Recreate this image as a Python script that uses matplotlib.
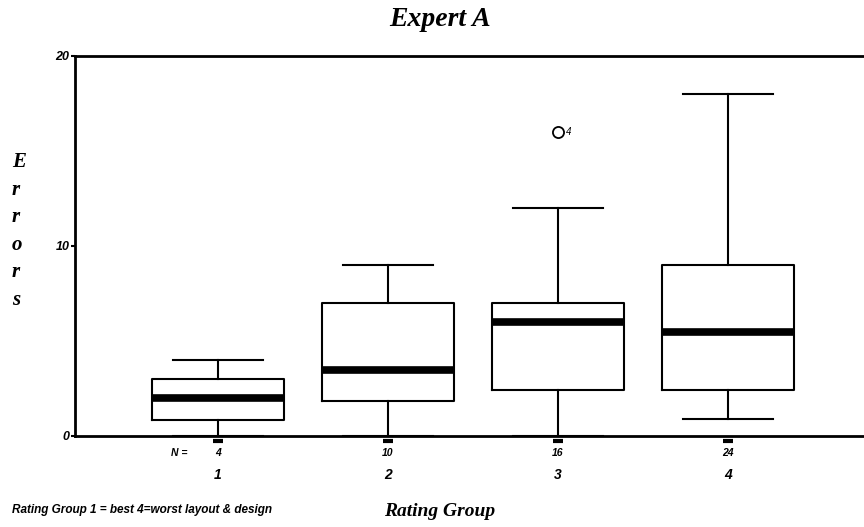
import matplotlib
matplotlib.use("Agg")
import matplotlib.pyplot as plt
import matplotlib.transforms as mtransforms

groups = ["1", "2", "3", "4"]
n_counts = ["4", "10", "16", "24"]
whislo = [0, 0, 0, 0.9]
q1 = [0.85, 1.85, 2.4, 2.4]
med = [2.0, 3.5, 6.0, 5.5]
q3 = [3.0, 7.0, 7.0, 9.0]
whishi = [4.0, 9.0, 12.0, 18.0]
fliers = [[], [], [16.0], []]
flier_labels = [[], [], ["4"], []]
yticks = [0, 10, 20]

serif = "Liberation Serif"
sans = "Liberation Sans"

fig = plt.figure(figsize=(8.64, 5.27), dpi=100)
ax = fig.add_axes([75/864, (527-436)/527, (864-75)/864, (436-56)/527])

positions = [1, 2, 3, 4]
stats = []
for i in range(4):
    stats.append(dict(med=med[i], q1=q1[i], q3=q3[i], whislo=whislo[i],
                      whishi=whishi[i], fliers=fliers[i], label=groups[i]))

ax.bxp(stats, positions=positions, widths=0.78, showfliers=True,
       boxprops=dict(color="black", linewidth=1.5),
       medianprops=dict(color="black", linewidth=5.5, solid_capstyle="butt"),
       whiskerprops=dict(color="black", linewidth=1.5),
       capprops=dict(color="black", linewidth=1.5),
       capwidths=0.53,
       flierprops=dict(marker="o", markerfacecolor="white", markeredgecolor="black",
                       markersize=8, markeredgewidth=1.3))

for i, (fl, lab) in enumerate(zip(fliers, flier_labels)):
    for v, l in zip(fl, lab):
        ax.text(positions[i] + 0.05, v, l, fontsize=7, fontfamily=sans,
                fontstyle="italic", va="center", ha="left")

ax.set_xlim(0.16, 4.8)
ax.set_ylim(0, 20)

for side in ["left", "top", "bottom"]:
    ax.spines[side].set_linewidth(2)
ax.spines["right"].set_visible(False)

ax.set_yticks(yticks)
ax.set_yticklabels([str(t) for t in yticks], fontfamily=sans, fontweight="bold",
                   fontstyle="italic", fontsize=9)
ax.tick_params(axis="y", direction="out", length=3, width=1.5, pad=1)
ax.set_xticks([])

trans = mtransforms.blended_transform_factory(ax.transData, ax.transAxes)
for i, p in enumerate(positions):
    ax.plot([p - 0.03, p + 0.03], [-0.012, -0.012], transform=trans, color="black",
            linewidth=3, clip_on=False, solid_capstyle="butt")
    ax.text(p, -0.045, n_counts[i], transform=trans, ha="center", va="center",
            fontfamily=sans, fontweight="bold", fontstyle="italic", fontsize=7.5)
    ax.text(p, -0.103, groups[i], transform=trans, ha="center", va="center",
            fontfamily=sans, fontweight="bold", fontstyle="italic", fontsize=10)
ax.text(positions[0] - 0.18, -0.045, "N =", transform=trans, ha="right", va="center",
        fontfamily=sans, fontweight="bold", fontstyle="italic", fontsize=7.5)

fig.text(440/864, 1 - 20/527, "Expert A", ha="center", va="center",
         fontfamily=serif, fontweight="bold", fontstyle="italic", fontsize=20)
fig.text(12/864, 1 - 231/527, "E\nr\nr\no\nr\ns", ha="left", va="center",
         fontfamily=serif, fontweight="bold", fontstyle="italic", fontsize=15,
         linespacing=1.5)
fig.text(440/864, 1 - 512/527, "Rating Group", ha="center", va="center",
         fontfamily=serif, fontweight="bold", fontstyle="italic", fontsize=14)
fig.text(12/864, 1 - 510/527, "Rating Group 1 = best 4=worst layout & design",
         ha="left", va="center", fontfamily=sans, fontweight="bold",
         fontstyle="italic", fontsize=8.5)

fig.savefig("out.png", dpi=100)
